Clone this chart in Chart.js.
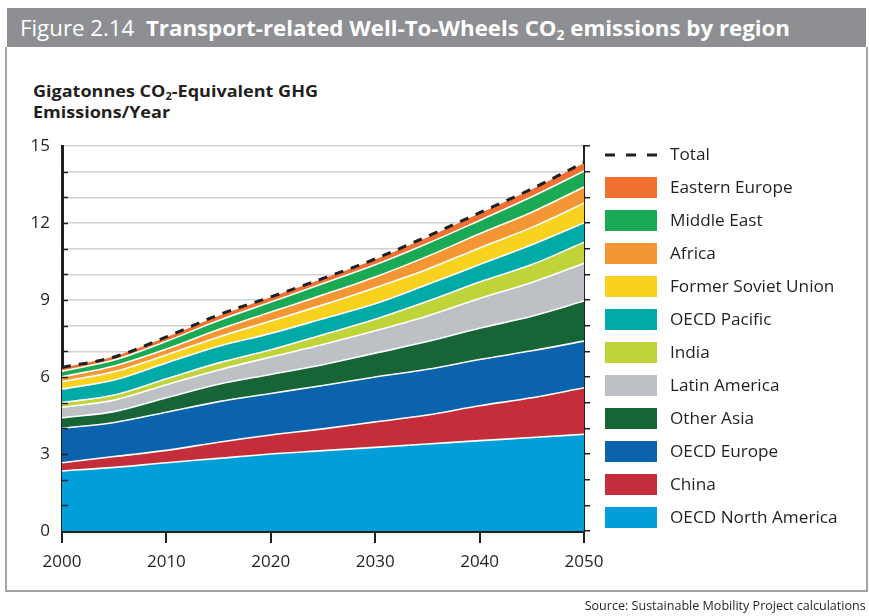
<!DOCTYPE html>
<html>
<head>
<meta charset="utf-8">
<script src="https://cdn.jsdelivr.net/npm/chart.js@4.4.1/dist/chart.umd.min.js"></script>
<style>
  html, body { margin: 0; padding: 0; }
  body { width: 869px; height: 616px; position: relative; background: #fff; overflow: hidden; font-family: 'Open Sans', sans-serif; color: #231f20; }
  #hdr { position: absolute; left: 7px; top: 8px; width: 859px; height: 39px; background: #8d8f92; }
  #title { position: absolute; left: 20px; top: 12px; white-space: nowrap; color: #fff; font-size: 22px; line-height: 30px; transform-origin: left center; }
  #title b { font-weight: 700; }
  sub { font-size: 62%; vertical-align: -0.3em; line-height: 0; }
  #frame { position: absolute; left: 5px; top: 47px; width: 859px; height: 543px; border: 2px solid #a3a3a3; border-top: none; }
  #ytitle { position: absolute; left: 33px; top: 81px; font-weight: 700; font-size: 16px; line-height: 21px; white-space: nowrap; transform-origin: left top; }
  #ytitle div { transform-origin: left center; }
  #cv { position: absolute; left: 0; top: 0; }
  .lg { position: absolute; left: 605px; height: 22px; white-space: nowrap; }
  .lg .bx { position: absolute; left: 0; top: 0; width: 52px; height: 21px; }
  .lg .tx { position: absolute; left: 65px; top: -2px; font-size: 17px; line-height: 24px; transform-origin: left center; }
  #source { position: absolute; right: 3px; top: 597px; font-size: 12px; line-height: 18px; white-space: nowrap; transform-origin: right center; }
</style>
</head>
<body>
<div id="hdr"></div>
<div id="title">Figure 2.14&nbsp; <b>Transport-related Well-To-Wheels CO<sub>2</sub> emissions by region</b></div>
<div id="frame"></div>
<div id="ytitle"><div id="yt1">Gigatonnes CO<sub>2</sub>-Equivalent GHG</div><div id="yt2">Emissions/Year</div></div>
<canvas id="cv" width="869" height="616"></canvas>
<div id="legend"></div>
<div id="source">Source: Sustainable Mobility Project calculations</div>
<script>
// ---- data (Gt CO2-eq per year) ----
const years = [2000, 2005, 2010, 2015, 2020, 2025, 2030, 2035, 2040, 2045, 2050];
const xTicks = [2000, 2010, 2020, 2030, 2040, 2050];
const yTickLabels = [0, 3, 6, 9, 12, 15];

const oecdNorthAmerica = [2.34, 2.48, 2.66, 2.83, 3.00, 3.13, 3.26, 3.39, 3.52, 3.64, 3.77];
const china            = [0.32, 0.42, 0.48, 0.63, 0.74, 0.85, 0.99, 1.13, 1.36, 1.55, 1.81];
const oecdEurope       = [1.34, 1.33, 1.49, 1.58, 1.62, 1.69, 1.75, 1.78, 1.80, 1.83, 1.82];
const otherAsia        = [0.41, 0.42, 0.56, 0.68, 0.74, 0.81, 0.93, 1.08, 1.22, 1.35, 1.56];
const latinAmerica     = [0.41, 0.45, 0.51, 0.55, 0.68, 0.79, 0.87, 1.00, 1.16, 1.31, 1.47];
const india            = [0.18, 0.20, 0.23, 0.28, 0.28, 0.38, 0.45, 0.57, 0.64, 0.70, 0.82];
const oecdPacific      = [0.53, 0.58, 0.62, 0.65, 0.64, 0.62, 0.60, 0.65, 0.68, 0.77, 0.75];
const formerSoviet     = [0.29, 0.33, 0.31, 0.36, 0.48, 0.54, 0.63, 0.60, 0.65, 0.68, 0.77];
const africa           = [0.19, 0.22, 0.23, 0.29, 0.35, 0.39, 0.42, 0.50, 0.55, 0.59, 0.63];
const middleEast       = [0.22, 0.23, 0.30, 0.35, 0.39, 0.44, 0.47, 0.50, 0.52, 0.60, 0.62];
const easternEurope    = [0.11, 0.11, 0.13, 0.15, 0.16, 0.16, 0.18, 0.21, 0.24, 0.26, 0.28];
const total            = [6.37, 6.78, 7.56, 8.42, 9.12, 9.84, 10.60, 11.48, 12.40, 13.33, 14.36];

const seriesNames = ['OECD North America', 'China', 'OECD Europe', 'Other Asia', 'Latin America', 'India',
                     'OECD Pacific', 'Former Soviet Union', 'Africa', 'Middle East', 'Eastern Europe'];
const seriesValues = [oecdNorthAmerica, china, oecdEurope, otherAsia, latinAmerica, india,
                      oecdPacific, formerSoviet, africa, middleEast, easternEurope];
const seriesColors = ['#009fda', '#c62d3a', '#0b63ad', '#176536', '#bdc0c4', '#c0d43a',
                      '#00aaa7', '#f9d21f', '#f39633', '#1aa955', '#ef7031'];

const pts = arr => arr.map((v, i) => ({ x: years[i], y: v }));

const datasets = [{
  label: 'Total', data: pts(total), stack: 'total', fill: false,
  borderColor: '#231f20', borderWidth: 3, borderDash: [9, 8], pointRadius: 0,
  cubicInterpolationMode: 'monotone'
}];
seriesNames.forEach((name, i) => {
  const last = i === seriesNames.length - 1;
  datasets.push({
    label: name, data: pts(seriesValues[i]), stack: 'regions',
    fill: i === 0 ? 'origin' : '-1',
    backgroundColor: seriesColors[i],
    borderColor: last ? seriesColors[i] : '#ffffff',
    borderWidth: last ? 1.5 : 1.6,
    pointRadius: 0,
    cubicInterpolationMode: 'monotone'
  });
});

const ink = '#231f20';

// short inward tick marks on the left axis (axis decoration, positioned by the y scale)
const innerTicks = {
  id: 'innerTicks',
  afterDatasetsDraw(chart) {
    const y = chart.scales.y, left = chart.chartArea.left, ctx = chart.ctx;
    ctx.save();
    ctx.strokeStyle = ink; ctx.lineWidth = 1.5;
    y.ticks.forEach(t => {
      if (t.value <= 0 || t.value >= 15) return;
      const py = Math.round(y.getPixelForValue(t.value)) + 0.5;
      ctx.beginPath(); ctx.moveTo(left, py); ctx.lineTo(left + 6, py); ctx.stroke();
    });
    ctx.restore();
  }
};

new Chart(document.getElementById('cv'), {
  type: 'line',
  data: { datasets },
  plugins: [innerTicks],
  options: {
    responsive: false, animation: false, devicePixelRatio: 1,
    layout: { padding: { left: 0, top: 146, right: 277, bottom: 40 } },
    plugins: { legend: { display: false }, tooltip: { enabled: false }, title: { display: false } },
    scales: {
      x: {
        type: 'linear', min: 2000, max: 2050,
        afterFit: s => { s.height = 45; },
        afterBuildTicks: s => { s.ticks = xTicks.map(v => ({ value: v })); },
        ticks: { color: ink, font: { family: 'Open Sans', size: 17 }, padding: 9, maxRotation: 0, callback: v => String(v) },
        grid: { drawOnChartArea: false, drawTicks: true, tickLength: 12, color: ink, lineWidth: 2 },
        border: { display: true, color: ink, width: 3 }
      },
      y: {
        stacked: true, min: 0, max: 15,
        afterFit: s => { s.width = 62; },
        ticks: { stepSize: 1, color: ink, font: { family: 'Open Sans', size: 17 }, padding: 12,
                 callback: v => yTickLabels.includes(v) ? String(v) : '' },
        grid: { drawOnChartArea: true, drawTicks: false, color: '#cfd2d7', lineWidth: 1.5 },
        border: { display: true, color: ink, width: 3 }
      },
      y2: {
        position: 'right', min: 0, max: 15,
        afterFit: s => { s.width = 8; },
        ticks: { stepSize: 1, display: false },
        grid: { drawOnChartArea: false, drawTicks: true, tickLength: 6, color: ink, lineWidth: 1.5 },
        border: { display: true, color: ink, width: 2 }
      }
    }
  }
});

// ---- HTML legend built from the same names/colours ----
const lg = document.getElementById('legend');
const items = [{ name: 'Total', color: null }].concat(
  seriesNames.map((n, i) => ({ name: n, color: seriesColors[i] })).reverse());
items.forEach((it, i) => {
  const row = document.createElement('div');
  row.className = 'lg';
  row.style.top = (144 + i * 33) + 'px';
  if (it.color) {
    row.innerHTML = '<div class="bx" style="background:' + it.color + '"></div>';
  } else {
    row.innerHTML = '<svg class="bx" width="52" height="21"><line x1="0" y1="11" x2="52" y2="11" stroke="' + ink +
      '" stroke-width="3" stroke-dasharray="10,11"/></svg>';
  }
  const t = document.createElement('div');
  t.className = 'tx';
  t.textContent = it.name;
  row.appendChild(t);
  lg.appendChild(row);
});

function fit(el, w) { const cw = el.getBoundingClientRect().width; if (cw > 0) el.style.transform = 'scaleX(' + (w / cw) + ')'; }
function fitInline(el, w) { el.style.display = 'inline-block'; fit(el, w); el.style.display = 'block'; }
fit(document.getElementById('title'), 770);
fit(document.getElementById('source'), 281);
document.querySelectorAll('.lg .tx').forEach(el => { el.style.transform = 'scaleX(1.01)'; });
(function () {
  const a = document.getElementById('yt1'), b = document.getElementById('yt2');
  a.style.display = 'inline-block'; b.style.display = 'inline-block';
  const wa = a.getBoundingClientRect().width, wb = b.getBoundingClientRect().width;
  const k = 285 / wa;
  a.style.transform = 'scaleX(' + k + ')'; b.style.transform = 'scaleX(' + k + ')';
  a.style.display = 'block'; b.style.display = 'block';
  a.style.width = wa + 'px'; b.style.width = wb + 'px';
})();
</script>
</body>
</html>
